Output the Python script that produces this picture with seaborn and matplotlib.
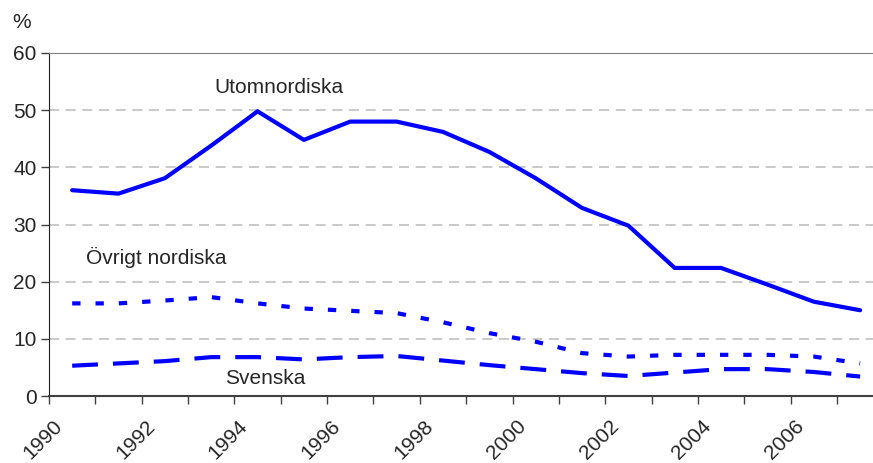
import numpy as np
import pandas as pd
import matplotlib
matplotlib.use("Agg")
import matplotlib.pyplot as plt
import matplotlib.transforms as mtransforms
import seaborn as sns

# data (percent)
years = list(range(1990, 2008))
utomnordiska = [36.0, 35.4, 38.1, 43.8, 49.8, 44.8, 48.0, 48.0, 46.2, 42.7,
                38.1, 32.9, 29.8, 22.4, 22.4, 19.5, 16.5, 15.0]
ovrigt_nordiska = [16.2, 16.2, 16.7, 17.3, 16.2, 15.3, 14.9, 14.5, 12.9, 11.0,
                   9.5, 7.5, 6.9, 7.2, 7.2, 7.2, 6.9, 5.7]
svenska = [5.3, 5.7, 6.1, 6.8, 6.8, 6.4, 6.8, 7.0, 6.2, 5.4,
           4.7, 4.0, 3.5, 4.1, 4.7, 4.7, 4.2, 3.4]
yticks = [0, 10, 20, 30, 40, 50, 60]
xlabels = [1990, 1992, 1994, 1996, 1998, 2000, 2002, 2004, 2006]

sns.set_style("white")
plt.rcParams["font.family"] = ["Liberation Sans", "DejaVu Sans"]
fs = 15

# points sit in the middle of each year slot
df = pd.DataFrame({
    "year": np.array(years) + 0.5,
    "Utomnordiska": utomnordiska,
    "Övrigt nordiska": ovrigt_nordiska,
    "Svenska": svenska,
})

fig = plt.figure(figsize=(8.73, 4.63), dpi=100)
ax = fig.add_axes([49 / 873, 67 / 463, 1 - 49 / 873, (396 - 53) / 463])

blue = "#0000ff"
sns.lineplot(data=df, x="year", y="Utomnordiska", ax=ax, color=blue, lw=3)
sns.lineplot(data=df, x="year", y="Övrigt nordiska", ax=ax, color=blue, lw=3)
sns.lineplot(data=df, x="year", y="Svenska", ax=ax, color=blue, lw=3)
ax.lines[1].set_dashes((2, 3.6))
ax.lines[2].set_dashes((6.2, 3.6))

ax.set_xlim(1990, 1990 + (873 - 49) / 46.35)
ax.set_ylim(0, 60)
ax.set_yticks(yticks)
ax.set_yticklabels([str(v) for v in yticks], fontsize=fs)
ax.set_xticks(range(1990, 2008))
ax.set_xticklabels([str(y) if y in xlabels else "" for y in range(1990, 2008)],
                   fontsize=fs, rotation=45, ha="center", va="top")
ax.tick_params(axis="both", direction="out", length=6, width=1, color="#404040",
               bottom=True, left=True, pad=3)
ax.tick_params(axis="x", pad=9)
shift = mtransforms.ScaledTranslation(-6 / 100, 0, fig.dpi_scale_trans)
for lab in ax.get_xticklabels():
    lab.set_transform(lab.get_transform() + shift)
ax.set_xlabel("")
ax.set_ylabel("")

for v in yticks[1:-1]:
    ax.axhline(v, color="#c0c0c0", lw=1.2, dashes=(6, 4), zorder=0)

ax.spines["top"].set_color("#808080")
ax.spines["right"].set_visible(False)
ax.spines["left"].set_color("#202020")
ax.spines["bottom"].set_color("#404040")
ax.spines["bottom"].set_linewidth(1.5)

ax.text(1994.96, 54.0, "Utomnordiska", fontsize=fs, ha="center", va="center")
ax.text(1992.31, 24.3, "Övrigt nordiska", fontsize=fs, ha="center", va="center")
ax.text(1994.66, 3.0, "Svenska", fontsize=fs, ha="center", va="center")
fig.text(22 / 873, 1 - 22 / 463, "%", fontsize=fs, ha="center", va="center")

fig.savefig("out.png", dpi=100)
